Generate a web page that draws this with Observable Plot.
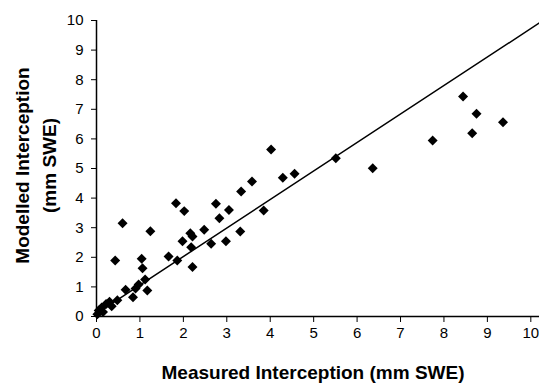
<!DOCTYPE html>
<html>
<head>
<meta charset="utf-8">
<script src="https://cdn.jsdelivr.net/npm/d3@7"></script>
<script src="https://cdn.jsdelivr.net/npm/@observablehq/plot@0.6"></script>
<style>
  body { margin: 0; background: #fff; }
  #chart svg { display: block; }
</style>
</head>
<body>
<div id="chart"></div>
<script>
// Measured vs modelled interception (mm SWE)
const measured = [3.58, 3.33, 2.75, 3.05, 2.83, 1.83, 2.02, 0.60, 1.24, 2.48, 2.16, 2.21, 1.98, 3.31, 2.64, 2.98, 2.18, 2.21, 1.66, 1.86, 0.43, 1.04, 1.06,
                  8.44, 8.75, 9.36, 8.65, 7.74, 6.36, 5.51, 4.02, 4.56, 4.29, 3.85,
                  1.12, 0.97, 0.90, 1.17, 0.67, 0.84, 0.48, 0.30, 0.22, 0.12, 0.05, 0.02, 0.15, 0.35];
const modelled = [4.56, 4.22, 3.81, 3.60, 3.32, 3.83, 3.56, 3.15, 2.88, 2.93, 2.81, 2.70, 2.54, 2.87, 2.46, 2.54, 2.34, 1.67, 2.03, 1.89, 1.89, 1.95, 1.63,
                  7.43, 6.85, 6.56, 6.19, 5.95, 5.01, 5.35, 5.64, 4.82, 4.69, 3.58,
                  1.25, 1.08, 0.95, 0.88, 0.90, 0.65, 0.55, 0.50, 0.42, 0.30, 0.20, 0.08, 0.15, 0.35];
// fitted line endpoints
const lineX = [0, 10.2];
const lineY = [0.1, 9.92];
const xTicks = [0, 1, 2, 3, 4, 5, 6, 7, 8, 9, 10];
const yTicks = [0, 1, 2, 3, 4, 5, 6, 7, 8, 9, 10];
const xTitle = "Measured Interception (mm SWE)";
const yTitle = "Modelled Interception\n(mm SWE)";

const points = measured.map((m, i) => ({measured: m, modelled: modelled[i]}));
const fit = lineX.map((x, i) => ({x, y: lineY[i]}));

const chart = Plot.plot({
  width: 539,
  height: 384,
  marginLeft: 96,
  marginRight: 0,
  marginTop: 20,
  marginBottom: 68,
  style: {fontFamily: "'Liberation Sans', Arial, sans-serif", fontSize: "15px", color: "#000", background: "#fff"},
  x: {domain: [0, 10.2], ticks: xTicks, tickSize: 6, tickPadding: 5, label: null, tickFormat: d => String(d)},
  y: {domain: [0, 10], ticks: yTicks, tickSize: 5, tickPadding: 8, label: null, tickFormat: d => String(d)},
  marks: [
    Plot.ruleX([0], {stroke: "#000", strokeWidth: 1.5}),
    Plot.ruleY([0], {stroke: "#000", strokeWidth: 1.5}),
    Plot.line(fit, {x: "x", y: "y", stroke: "#000", strokeWidth: 1.5}),
    Plot.dot(points, {x: "measured", y: "modelled", symbol: "diamond2", r: 4.5, fill: "#000", stroke: "none"}),
    Plot.text([xTitle], {text: d => d, frameAnchor: "bottom", dy: 62, dx: -5, fontSize: 19, fontWeight: "bold"}),
    Plot.text([yTitle], {text: d => d, frameAnchor: "left", textAnchor: "middle", rotate: -90, dx: -63, dy: -3, lineHeight: 1.45, fontSize: 19, fontWeight: "bold"})
  ]
});
document.getElementById("chart").appendChild(chart);
</script>
</body>
</html>
